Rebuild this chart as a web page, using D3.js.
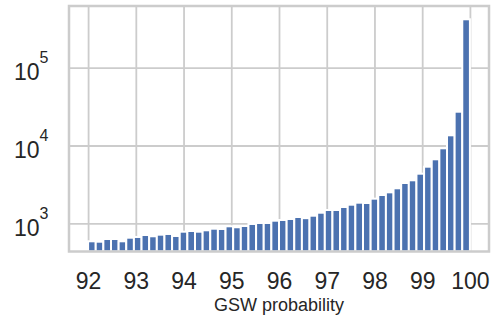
<!DOCTYPE html>
<html>
<head>
<meta charset="utf-8">
<script src="https://cdn.jsdelivr.net/npm/d3@7"></script>
<style>
  body { margin: 0; background: #fff; }
  text { font-family: "Liberation Sans", Arial, sans-serif; fill: #262626; }
</style>
</head>
<body>
<svg width="496" height="317"></svg>
<script>
// histogram counts, 50 bins from 92 to 100
var binStart = 92;
var binWidth = 0.16;
var counts = [587, 580, 628, 628, 587, 653, 667, 707, 681, 714,
              729, 687, 780, 796, 780, 813, 852, 845, 915, 889,
              923, 980, 1009, 1009, 1080, 1103, 1136, 1205, 1164, 1252,
              1368, 1482, 1482, 1620, 1734, 1840, 1823, 2072, 2310, 2500,
              2818, 3296, 3571, 4340, 5340, 6646, 9204, 13520, 27180, 419000];
var xTicks = [92, 93, 94, 95, 96, 97, 98, 99, 100];
var yTicks = [1e3, 1e4, 1e5];
var xLabel = "GSW probability";

var bins = counts.map(function(c, i) {
  return {x0: binStart + i * binWidth, x1: binStart + (i + 1) * binWidth, count: c};
});

var svg = d3.select("svg");
// note: "top" is reserved on window, so use plot* names
var plotLeft = 69, plotRight = 489, plotTop = 6, plotBottom = 251.5;
var w = plotRight - plotLeft, h = plotBottom - plotTop;

var x = d3.scaleLinear().domain([91.6, 100.4]).range([0, w]);
var y = d3.scaleLog().domain([Math.pow(10, 2.6375), Math.pow(10, 5.793)]).range([h, 0]);

var g = svg.append("g").attr("transform", "translate(" + plotLeft + "," + plotTop + ")");

// grid + tick labels through axes
var xAxis = g.append("g")
  .attr("transform", "translate(0," + h + ")")
  .call(d3.axisBottom(x).tickValues(xTicks).tickSize(-h).tickFormat(d3.format("d")));
xAxis.select(".domain").remove();
xAxis.selectAll("line").attr("stroke", "#cccccc").attr("stroke-width", 1.8);
xAxis.selectAll("text")
  .attr("y", 37.8).attr("dy", 0)
  .style("font-size", "23px").attr("fill", "#262626");

var yAxis = g.append("g")
  .call(d3.axisLeft(y).tickValues(yTicks).tickSize(-w).tickFormat(""));
yAxis.select(".domain").remove();
yAxis.selectAll("line").attr("stroke", "#cccccc").attr("stroke-width", 1.8);
yAxis.selectAll("text").each(function(d) {
  var t = d3.select(this)
    .attr("x", -20.5).attr("dy", 0).attr("y", 12.2)
    .attr("text-anchor", "end").attr("fill", "#262626");
  t.append("tspan").style("font-size", "23px").text("10");
  t.append("tspan").style("font-size", "16px").attr("dy", -17)
    .text(Math.round(Math.log10(d)));
});

// bars
g.append("g").selectAll("rect")
  .data(bins)
  .enter().append("rect")
  .attr("x", function(d) { return x(d.x0); })
  .attr("width", function(d) { return x(d.x1) - x(d.x0); })
  .attr("y", function(d) { return y(d.count); })
  .attr("height", function(d) { return h - y(d.count); })
  .attr("fill", "#4c72b0")
  .attr("stroke", "#ffffff")
  .attr("stroke-width", 2);

// frame
g.append("rect")
  .attr("width", w).attr("height", h)
  .attr("fill", "none")
  .attr("stroke", "#cccccc")
  .attr("stroke-width", 2.5);

svg.append("text")
  .attr("x", plotLeft + w / 2).attr("y", 311)
  .attr("text-anchor", "middle")
  .style("font-size", "18px")
  .text(xLabel);
</script>
</body>
</html>
